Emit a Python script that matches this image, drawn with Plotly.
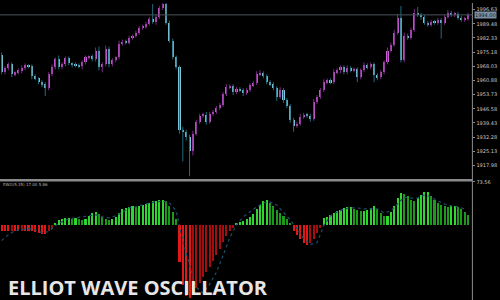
import plotly.graph_objects as go

# ---------------- data ----------------
close = [
    1965.0, 1967.0, 1969.0, 1964.0, 1965.0, 1966.0, 1967.0, 1968.5, 1968.0, 1963.0,
    1962.0, 1960.0, 1959.0, 1957.0, 1964.0, 1967.5, 1971.5, 1967.5, 1969.0, 1972.0,
    1969.5, 1969.0, 1968.5, 1968.0, 1970.0, 1972.5, 1973.0, 1971.5, 1976.0, 1967.5,
    1969.0, 1977.0, 1969.0, 1971.0, 1972.5, 1979.5, 1980.5, 1980.0, 1982.5, 1983.5,
    1985.0, 1987.5, 1988.0, 1989.5, 1992.0, 1990.5, 1993.0, 1997.5, 1999.5, 1990.0,
    1981.0, 1972.5, 1967.5, 1936.0, 1935.0, 1932.5, 1925.0, 1934.0, 1940.0, 1943.0,
    1943.5, 1940.0, 1944.0, 1945.0, 1947.0, 1948.5, 1954.0, 1957.5, 1958.0, 1955.0,
    1956.5, 1956.0, 1954.5, 1956.0, 1958.5, 1959.5, 1964.0, 1964.5, 1963.0, 1960.0,
    1959.0, 1957.0, 1952.5, 1956.0, 1951.0, 1948.0, 1941.0, 1938.0, 1939.0, 1942.5,
    1943.5, 1943.0, 1941.5, 1950.0, 1952.5, 1956.0, 1960.0, 1961.0, 1960.0, 1965.0,
    1966.0, 1967.5, 1965.0, 1967.0, 1966.0, 1966.5, 1962.5, 1966.0, 1968.5, 1967.5,
    1969.0, 1963.5, 1962.5, 1965.0, 1970.0, 1976.0, 1979.0, 1985.0, 1992.5, 1971.0,
    1983.5, 1982.5, 1986.5, 1995.0, 1994.0, 1993.0, 1990.0, 1989.0, 1990.5, 1990.0,
    1991.5, 1990.0, 1993.0, 1995.0, 1994.0, 1994.5, 1992.5, 1991.5, 1992.0, 1994.0,
]
first_open = 1973.5

wick_up = [
    1.5, 1.0, 1.0, 1.0, 0.5, 1.0, 1.5, 1.0, 0.5, 1.0,
    1.0, 0.5, 1.0, 1.0, 1.0, 1.5, 1.0, 2.0, 1.0, 1.0,
    1.0, 0.5, 1.0, 1.0, 1.0, 1.0, 0.5, 1.0, 1.5, 2.0,
    1.0, 1.5, 1.0, 1.0, 0.5, 1.5, 1.0, 1.0, 1.0, 0.5,
    1.0, 1.0, 1.0, 1.0, 1.0, 7.5, 1.0, 1.0, 0.5, 0.5,
    1.0, 1.0, 1.0, 1.0, 1.5, 1.0, 1.0, 1.5, 1.0, 1.0,
    1.0, 1.5, 1.0, 1.0, 1.0, 1.0, 1.0, 1.5, 1.0, 1.0,
    1.0, 1.0, 1.0, 1.0, 1.0, 1.0, 1.5, 1.5, 1.0, 1.0,
    1.0, 1.0, 1.0, 1.5, 1.0, 1.0, 1.0, 1.0, 1.0, 1.5,
    1.0, 1.0, 1.0, 1.5, 1.0, 1.0, 1.5, 1.0, 1.0, 1.5,
    1.0, 1.0, 1.0, 1.5, 1.0, 1.0, 1.0, 1.0, 1.5, 1.0,
    1.0, 1.0, 1.0, 1.0, 1.0, 1.5, 1.0, 1.5, 2.0, 6.0,
    1.5, 1.0, 1.0, 2.0, 3.0, 1.0, 1.0, 1.0, 1.0, 1.0,
    1.0, 1.0, 1.0, 1.5, 1.0, 1.0, 1.0, 1.0, 1.0, 1.0,
]
wick_dn = [
    1.0, 1.0, 1.0, 1.5, 1.0, 1.0, 1.5, 1.0, 1.0, 1.5,
    1.0, 1.0, 1.5, 4.0, 1.0, 1.0, 1.0, 1.0, 1.0, 1.0,
    1.0, 1.5, 1.0, 1.0, 1.5, 1.0, 1.0, 1.0, 1.0, 1.5,
    2.5, 1.0, 1.5, 1.0, 1.0, 1.0, 1.0, 1.0, 1.0, 1.0,
    1.0, 1.0, 1.0, 1.0, 1.0, 1.0, 1.5, 1.0, 1.0, 1.0,
    1.0, 1.0, 1.0, 2.0, 15.0, 2.0, 12.5, 2.0, 1.0, 1.0,
    1.0, 1.5, 1.0, 1.0, 1.0, 1.0, 1.0, 1.0, 1.0, 1.5,
    1.0, 1.0, 1.5, 1.0, 1.0, 1.0, 1.0, 1.0, 1.0, 1.0,
    1.0, 1.0, 2.0, 1.0, 1.5, 1.0, 1.5, 3.0, 1.0, 1.0,
    1.0, 1.0, 1.5, 1.0, 1.0, 1.0, 1.0, 1.0, 1.0, 1.0,
    1.0, 1.5, 1.0, 1.0, 1.0, 1.0, 2.5, 1.0, 1.0, 1.0,
    1.0, 3.5, 1.5, 1.0, 1.0, 1.0, 1.0, 1.0, 1.0, 1.0,
    1.0, 1.0, 1.0, 1.0, 1.0, 1.5, 1.0, 1.0, 1.0, 1.0,
    1.0, 8.0, 1.0, 1.0, 1.0, 1.0, 1.0, 1.0, 1.0, 1.0,
]

ewo = [
    -10.2, -11.9, -11.9, -10.2, -11.9, -11.9, -10.2, -10.2, -11.9, -11.9,
    -13.6, -15.3, -17.0, -17.0, -11.9, -6.8, 3.4, 8.5, 10.2, 11.9,
    11.9, 10.2, 11.9, 10.2, 8.5, 10.2, 15.3, 20.4, 22.1, 18.7,
    13.6, 10.2, 8.5, 10.2, 13.6, 20.4, 27.2, 28.9, 30.6, 32.3,
    30.6, 32.3, 34.0, 35.7, 37.4, 40.8, 40.8, 42.5, 42.5, 40.8,
    32.3, 22.1, 10.2, -64.6, -103.7, -122.4, -125.8, -117.3, -108.8, -100.3,
    -90.1, -81.6, -73.1, -62.9, -52.7, -42.5, -30.6, -20.4, -11.9, -5.1,
    3.4, 5.1, 6.8, 10.2, 13.6, 18.7, 27.2, 34.0, 40.8, 42.5,
    37.4, 32.3, 25.5, 20.4, 15.3, 10.2, 3.4, -10.2, -18.7, -25.5,
    -32.3, -35.7, -32.3, -25.5, -15.3, -5.1, 11.9, 13.6, 17.0, 20.4,
    23.8, 25.5, 28.9, 30.6, 30.6, 27.2, 25.5, 23.8, 23.8, 25.5,
    28.9, 32.3, 27.2, 20.4, 15.3, 15.3, 22.1, 32.3, 45.9, 54.4,
    52.7, 49.3, 42.5, 40.8, 45.9, 51.0, 56.1, 56.1, 49.3, 42.5,
    37.4, 34.0, 32.3, 30.6, 32.3, 32.3, 30.6, 27.2, 22.1, 17.0,
]

signal_idx = list(range(0, 140, 2))
signal = [
    -27.2, -17.0, -10.2, -8.5, -6.8, -8.5, -13.6, -11.9, -1.7, 5.1,
    10.2, 11.9, 13.6, 15.3, 17.0, 13.6, 11.9, 15.3, 22.1, 28.9,
    30.6, 34.0, 37.4, 39.1, 40.8, 37.4, 23.8, -27.2, -69.7, -107.1,
    -117.3, -102.0, -81.6, -52.7, -22.1, 0.0, 13.6, 22.1, 30.6, 37.4,
    39.1, 34.0, 22.1, 8.5, -6.8, -23.8, -34.0, -30.6, -1.7, 15.3,
    22.1, 27.2, 28.9, 28.9, 27.2, 27.2, 27.2, 20.4, 23.8, 35.7,
    47.6, 45.9, 45.9, 51.0, 47.6, 40.8, 35.7, 32.3, 30.6, 27.2,
]

price_ticks = [1996.63, 1989.48, 1982.33, 1975.18, 1968.03, 1960.88,
               1953.73, 1946.58, 1939.43, 1932.28, 1925.13, 1917.98]
ewo_ticks = [73.56]
current_price = 1994.00
indicator_label = "EWO(5,35) 17.00 5.86"
title_text = "ELLIOT WAVE OSCILLATOR"

# ---------------- styles ----------------
BULL_BODY = "#c85ad2"
BEAR_BODY = "#7cc8da"
BULL_WICK = "#7a2a86"
BEAR_WICK = "#1f6a7c"
AXIS_COL = "#8c8c8c"
XDOM = [0, 0.972]
XR = [-0.49, 140.3]

n = len(close)
xs = list(range(n))
opens = [first_open] + close[:-1]
highs = [max(o, c) + w for o, c, w in zip(opens, close, wick_up)]
lows = [min(o, c) - w for o, c, w in zip(opens, close, wick_dn)]

fig = go.Figure()

# wicks
for bull, col in ((True, BULL_WICK), (False, BEAR_WICK)):
    wx, wy = [], []
    for i in xs:
        if (close[i] >= opens[i]) == bull:
            wx += [i, i, None]
            wy += [lows[i], highs[i], None]
    fig.add_trace(go.Scatter(x=wx, y=wy, mode="lines", line=dict(color=col, width=1),
                             hoverinfo="skip", showlegend=False, xaxis="x", yaxis="y"))

# bodies
for bull, col in ((True, BULL_BODY), (False, BEAR_BODY)):
    bx, bh, bb = [], [], []
    for i in xs:
        if (close[i] >= opens[i]) == bull:
            bx.append(i)
            bh.append(max(abs(close[i] - opens[i]), 0.35))
            bb.append(min(close[i], opens[i]))
    fig.add_trace(go.Bar(x=bx, y=bh, base=bb, width=0.62, marker=dict(color=col, line=dict(width=0)),
                         showlegend=False, xaxis="x", yaxis="y"))

# histogram colours
hcol = []
for i, v in enumerate(ewo):
    prev = ewo[i - 1] if i > 0 else v
    if v >= 0:
        hcol.append("#2fd62f" if v >= prev else "#1c9a1c")
    else:
        hcol.append("#e01818" if v <= prev else "#a50e0e")

fig.add_trace(go.Bar(x=xs, y=ewo, width=0.62, marker=dict(color=hcol, line=dict(width=0)),
                     showlegend=False, xaxis="x2", yaxis="y2"))
fig.add_trace(go.Scatter(x=signal_idx, y=signal, mode="lines",
                         line=dict(color="#1d4e6a", width=1.2, dash="dot"),
                         showlegend=False, xaxis="x2", yaxis="y2"))

yfont = dict(size=5, color="#c8c8c8", family="DejaVu Sans")
fig.update_layout(
    width=500, height=300,
    margin=dict(l=0, r=14, t=0, b=0),
    paper_bgcolor="#000000", plot_bgcolor="#000000",
    barmode="overlay", bargap=0,
    showlegend=False,
    xaxis=dict(domain=XDOM, range=XR, visible=False, anchor="y"),
    xaxis2=dict(domain=XDOM, range=XR, visible=False, anchor="y2"),
    yaxis=dict(domain=[0.4067, 1], range=[1911, 2000], side="right", anchor="x",
               tickvals=price_ticks, ticktext=[f"{v:.2f}" for v in price_ticks],
               tickfont=yfont, ticks="outside", ticklen=2, tickcolor=AXIS_COL,
               showgrid=False, zeroline=False, showline=False),
    yaxis2=dict(domain=[0, 0.4], range=[-129.2, 74.8], side="right", anchor="x2",
                tickvals=ewo_ticks, ticktext=[f"{v:.2f}" for v in ewo_ticks],
                tickfont=yfont, ticks="outside", ticklen=2, tickcolor=AXIS_COL,
                showgrid=False, zeroline=False, showline=False),
    shapes=[
        dict(type="line", xref="paper", yref="paper", x0=XDOM[1], x1=XDOM[1], y0=0, y1=1,
             line=dict(color=AXIS_COL, width=1)),
        dict(type="line", xref="paper", yref="paper", x0=0, x1=XDOM[1], y0=0.4033, y1=0.4033,
             line=dict(color="#8a8a8a", width=2.5)),
        dict(type="line", xref="paper", yref="y", x0=0, x1=XDOM[1], y0=current_price, y1=current_price,
             line=dict(color="#4b545c", width=1)),
    ],
    annotations=[
        dict(xref="paper", yref="y", x=XDOM[1] + 0.003, y=current_price, xanchor="left", yanchor="middle",
             text=f"{current_price:.2f}", showarrow=False, bgcolor="#7a92a4", borderpad=0,
             font=dict(size=5, color="#10202a", family="DejaVu Sans")),
        dict(xref="paper", yref="paper", x=0.002, y=1 - 183.5 / 300, xanchor="left", yanchor="middle",
             text=indicator_label, showarrow=False, font=dict(size=4, color="#b0b0b0", family="DejaVu Sans")),
        dict(xref="paper", yref="paper", x=0.012, y=1 - 287.5 / 300, xanchor="left", yanchor="middle",
             text=f"<b>{title_text}</b>", showarrow=False,
             font=dict(size=20, color="#e6e6e6", family="Open Sans")),
    ],
)

fig.write_html("out.html")
